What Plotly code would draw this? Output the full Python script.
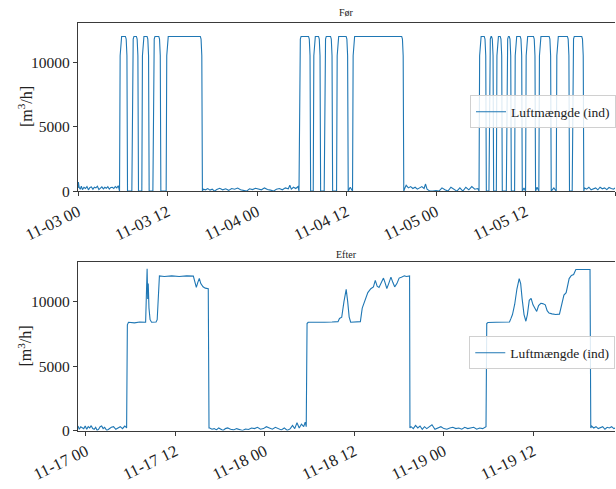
import pandas as pd
import plotly.graph_objects as go

# ---------------- data ----------------
# "Før" panel: hours after 2023-11-03 00:00
foer_start = "2023-11-03 00:00"
foer_pulse_on = [5.57, 7.22, 8.56, 10.04, 11.82,
                 29.63, 31.54, 33.01, 34.67, 36.81,
                 53.77, 55.10, 56.09, 57.43, 58.54, 60.01, 61.79, 64.12, 66.26]
foer_pulse_off = [6.64, 8.11, 9.54, 11.11, 16.68,
                  31.19, 32.53, 34.14, 36.23, 43.68,
                  54.75, 55.73, 56.89, 58.10, 59.57, 61.35, 63.45, 65.90, 67.82]
foer_level = 12000
foer_base_h = [0.0, 0.05, 0.15, 0.3, 0.45, 0.6, 0.8, 1.0, 1.2, 1.4, 1.6, 1.8, 2.0, 2.2, 2.4,
               2.6, 2.8, 3.0, 3.2, 3.4, 3.6, 3.8, 4.0, 4.2, 4.4, 4.6, 4.8, 5.0, 5.2, 5.4,
               16.8, 17.1, 17.4, 17.7, 18.0, 18.3, 18.6, 19.0, 19.4, 19.8, 20.2, 20.6, 21.0,
               21.4, 21.8, 22.2, 22.6, 23.0, 23.4, 23.8, 24.2, 24.6, 25.0, 25.4, 25.8, 26.2,
               26.6, 27.0, 27.4, 27.8, 28.2, 28.4, 28.6, 28.9, 29.2, 29.5,
               36.5, 43.8, 44.0, 44.3, 44.6, 44.9, 45.2, 45.5, 45.8, 46.1, 46.4, 46.6, 46.8,
               47.2, 47.6, 48.0, 48.4, 48.8, 49.2, 49.6, 50.0, 50.4, 50.8, 51.2, 51.6, 52.0,
               52.4, 52.8, 53.2, 53.6,
               59.8, 61.55, 63.8, 67.9, 68.2, 68.5, 68.8, 69.1, 69.4, 69.7, 70.0, 70.3,
               70.6, 70.9, 71.2, 71.5, 71.8, 72.0]
foer_base_v = [250, 700, 300, 150, 380, 120, 300, 200, 350, 100, 280, 320, 150, 300, 250,
               380, 120, 260, 330, 180, 300, 220, 350, 150, 280, 300, 200, 360, 250, 420,
               150, 100, 200, 80, 150, 0, 120, 220, 100, 180, 60, 200, 150,
               240, 100, 60, 0, 180, 120, 220, 160, 100, 250, 120, 80, 0,
               150, 200, 100, 250, 180, 450, 150, 300, 200, 350,
               300, 200, 450, 250, 350, 200, 300, 150, 250, 350, 200, 550, 150,
               0, 0, 50, 0, 250, 100, 0, 300, 150, 0, 250, 0, 300,
               100, 350, 150, 200,
               250, 300, 250, 250, 150, 300, 100, 200, 250, 100, 300, 180,
               250, 120, 280, 200, 150, 250]

# "Efter" panel: hours after 2023-11-17 00:00
efter_start = "2023-11-17 00:00"
efter_p1_h = [5.45, 5.55, 5.7, 6.5, 7.2, 8.0, 8.1, 8.2, 8.28, 8.35, 8.45, 8.6, 8.8, 9.4,
              9.55, 9.75, 9.85, 10.5, 11.5, 12.5, 13.5, 14.4, 14.6, 14.8, 15.0, 15.2,
              15.4, 15.7, 16.0, 16.4, 16.5]
efter_p1_v = [200, 8200, 8400, 8350, 8420, 8400, 10500, 12550, 10200, 11400, 9500, 8600,
              8400, 8420, 8600, 11900, 12000, 11950, 12000, 11950, 12000, 11980, 11500,
              11100, 11500, 11800, 11400, 11150, 11050, 11000, 200]
efter_p2_h = [29.54, 29.65, 29.8, 31.0, 32.0, 33.0, 33.8, 34.0, 34.3, 34.6, 34.9, 35.1,
              35.3, 35.5, 36.0, 36.8, 37.05, 37.35, 37.6, 37.8, 38.2, 38.55, 38.8, 39.05,
              39.3, 39.6, 39.9, 40.1, 40.35, 40.6, 40.9, 41.15, 41.4, 41.7, 42.0, 42.3,
              42.7, 43.0, 43.4, 43.45]
efter_p2_v = [300, 8300, 8400, 8380, 8400, 8420, 8450, 8700, 8800, 10000, 10950, 10000,
              8800, 8400, 8420, 8450, 9500, 10000, 10500, 10700, 11000, 11150, 11650, 11200,
              11100, 11500, 11830, 11500, 11020, 11400, 11900, 11500, 11150, 11400, 11830,
              11900, 12000, 11950, 12000, 200]
efter_p3_h = [53.65, 53.75, 53.9, 55.0, 56.0, 56.8, 57.0, 57.2, 57.5, 57.8, 58.1, 58.3,
              58.5, 58.75, 59.0, 59.2, 59.45, 59.7, 59.95, 60.2, 60.45, 60.7, 61.0, 61.25,
              61.6, 61.85, 62.1, 62.5, 63.0, 63.5, 63.8, 64.1, 64.4, 64.6, 64.8, 65.1,
              65.4, 65.7, 66.5, 67.6, 67.7]
efter_p3_v = [300, 8300, 8380, 8400, 8380, 8420, 8700, 9000, 9800, 11000, 11780, 11400,
              10200, 9000, 8480, 9000, 10100, 10260, 9750, 9500, 9240, 9700, 9870, 9850,
              9750, 9300, 9110, 9050, 9000, 9030, 9800, 10510, 10700, 11300, 11790, 12040,
              12100, 12500, 12480, 12500, 200]
efter_base_h = [-1.07, -0.9, -0.7, -0.5, -0.3, -0.1, 0.1, 0.3, 0.5, 0.7, 0.9, 1.1, 1.3, 1.5,
                1.7, 1.9, 2.1, 2.3, 2.5, 2.8, 3.1, 3.4, 3.7, 4.0, 4.3, 4.6, 4.9, 5.2, 5.4,
                16.6, 16.9, 17.2, 17.5, 17.8, 18.1, 18.4, 18.7, 19.0, 19.4, 19.8, 20.2, 20.6,
                21.0, 21.4, 21.8, 22.2, 22.6, 23.0, 23.4, 23.8, 24.2, 24.6, 25.0, 25.4, 25.8,
                26.2, 26.6, 27.0, 27.4, 27.7, 28.0, 28.3, 28.6, 28.9, 29.2, 29.4,
                43.6, 43.9, 44.2, 44.5, 44.8, 45.1, 45.4, 45.7, 46.0, 46.4, 46.8, 47.2, 47.6,
                48.0, 48.4, 48.8, 49.2, 49.6, 50.0, 50.4, 50.8, 51.2, 51.6, 52.0, 52.4, 52.8,
                53.2, 53.5,
                67.8, 68.1, 68.4, 68.7, 69.0, 69.3, 69.6, 69.9, 70.2, 70.5, 70.8, 71.2]
efter_base_v = [350, 100, 300, 250, 150, 350, 100, 300, 200, 380, 150, 100, 250, 0,
                100, 300, 350, 150, 250, 0, 150, 250, 300, 100, 200, 300, 150, 350, 250,
                200, 100, 150, 50, 200, 100, 0, 150, 200, 100, 50, 150, 100,
                0, 120, 80, 200, 150, 250, 100, 150, 300, 200, 100, 250, 150,
                50, 200, 0, 150, 400, 150, 600, 200, 500, 300, 650,
                300, 150, 400, 200, 350, 100, 300, 150, 250, 450, 100, 200, 300,
                150, 100, 200, 250, 150, 200, 100, 250, 150, 200, 250, 100, 200,
                150, 250,
                350, 200, 300, 150, 250, 300, 100, 250, 200, 300, 150, 250]

y_ticks = [0, 5000, 10000]
series_name = "Luftmængde (ind)"
titles = ["Før", "Efter"]
y_label = "[m<sup>3</sup>/h]"

# ---------------- build series ----------------
def foer_series():
    pts = list(zip(foer_base_h, foer_base_v))
    for s, e in zip(foer_pulse_on, foer_pulse_off):
        pts += [(s, 0), (s + 0.08, 10500), (s + 0.18, 11800), (s + 0.28, foer_level),
                (e - 0.28, foer_level), (e - 0.18, 11800), (e - 0.08, 10500), (e, 0)]
    pts.sort()
    t0 = pd.Timestamp(foer_start)
    x = [t0 + pd.Timedelta(hours=h) for h, _ in pts]
    y = [v for _, v in pts]
    return x, y


def efter_series():
    pts = list(zip(efter_base_h, efter_base_v))
    for hh, vv in [(efter_p1_h, efter_p1_v), (efter_p2_h, efter_p2_v), (efter_p3_h, efter_p3_v)]:
        pts += list(zip(hh, vv))
    pts.sort()
    t0 = pd.Timestamp(efter_start)
    x = [t0 + pd.Timedelta(hours=h) for h, _ in pts]
    y = [v for _, v in pts]
    return x, y


fx, fy = foer_series()
ex, ey = efter_series()

SERIF = "Liberation Serif, Times New Roman, serif"
LINE = "#1f77b4"
AX = "#3a3a3a"
YTICKSIZE = 15.5
XTICKSIZE = 16.5

fig = go.Figure()
fig.add_trace(go.Scatter(x=fx, y=fy, mode="lines", name=series_name,
                         line=dict(color=LINE, width=1.1), xaxis="x", yaxis="y",
                         legend="legend"))
fig.add_trace(go.Scatter(x=ex, y=ey, mode="lines", name=series_name,
                         line=dict(color=LINE, width=1.1), xaxis="x2", yaxis="y2",
                         legend="legend2"))

H = 489.0
W = 616
L = 78


def ydom(top_px, bot_px):
    return [1 - bot_px / H, 1 - top_px / H]


xcommon = dict(showline=True, linecolor=AX, linewidth=1.2, mirror=True,
               ticks="outside", ticklen=4, tickcolor=AX, tickwidth=1,
               showgrid=False, zeroline=False, tickformat="%m-%d %H",
               dtick=12 * 3600 * 1000, tickangle=-26,
               tickfont=dict(family=SERIF, size=XTICKSIZE, color="#222"))
ycommon = dict(showline=True, linecolor=AX, linewidth=1.2, mirror=False,
               ticks="outside", ticklen=4, tickcolor=AX, tickwidth=1,
               showgrid=False, zeroline=False, range=[0, 13050],
               tickvals=y_ticks, ticktext=[str(v) for v in y_ticks],
               tickfont=dict(family=SERIF, size=YTICKSIZE, color="#222"))

foer_t0 = pd.Timestamp(foer_start)
efter_t0 = pd.Timestamp(efter_start)

fig.update_layout(
    width=W, height=489,
    margin=dict(l=L, r=0, t=0, b=0),
    paper_bgcolor="white", plot_bgcolor="white",
    xaxis=dict(**xcommon, domain=[0, 1], anchor="y",
               tick0=foer_start,
               range=[foer_t0, foer_t0 + pd.Timedelta(hours=72.0)]),
    yaxis=dict(**ycommon, domain=ydom(23.3, 194.3), anchor="x"),
    xaxis2=dict(**xcommon, domain=[0, 1], anchor="y2",
                tick0=efter_start,
                range=[efter_t0 + pd.Timedelta(hours=-1.07),
                       efter_t0 + pd.Timedelta(hours=70.95)]),
    yaxis2=dict(**ycommon, domain=ydom(266.7, 437.7), anchor="x2"),
    legend=dict(x=(471 - L) / (W - L), y=1 - 97 / H, xanchor="left", yanchor="top",
                bgcolor="rgba(255,255,255,0.85)", bordercolor="#d0d0d0", borderwidth=1,
                font=dict(family=SERIF, size=13.5, color="#222"), itemwidth=30),
    legend2=dict(x=(470 - L) / (W - L), y=1 - 342 / H, xanchor="left", yanchor="top",
                 bgcolor="rgba(255,255,255,0.85)", bordercolor="#d0d0d0", borderwidth=1,
                 font=dict(family=SERIF, size=13.5, color="#222"), itemwidth=30),
    showlegend=True,
)

annos = []
for title, ypx in zip(titles, [13, 259]):
    annos.append(dict(text=title, x=0.5, y=1 - ypx / H, xref="paper", yref="paper",
                      showarrow=False, xanchor="center", yanchor="middle",
                      font=dict(family=SERIF, size=10, color="#222")))
for cy in [108.8, 352.2]:
    annos.append(dict(text=y_label, x=(25 - L) / (W - L), y=1 - cy / H, xref="paper",
                      yref="paper", showarrow=False, textangle=-90,
                      xanchor="center", yanchor="middle",
                      font=dict(family=SERIF, size=16, color="#222")))
fig.update_layout(annotations=annos)

fig.write_html("out.html", config={"displayModeBar": False})

# remove the browser's default page margin so the figure sits at (0, 0)
with open("out.html", "r", encoding="utf-8") as fh:
    page = fh.read()
page = page.replace("<head>", "<head><style>html,body{margin:0;padding:0;overflow:hidden;}</style>", 1)
with open("out.html", "w", encoding="utf-8") as fh:
    fh.write(page)
